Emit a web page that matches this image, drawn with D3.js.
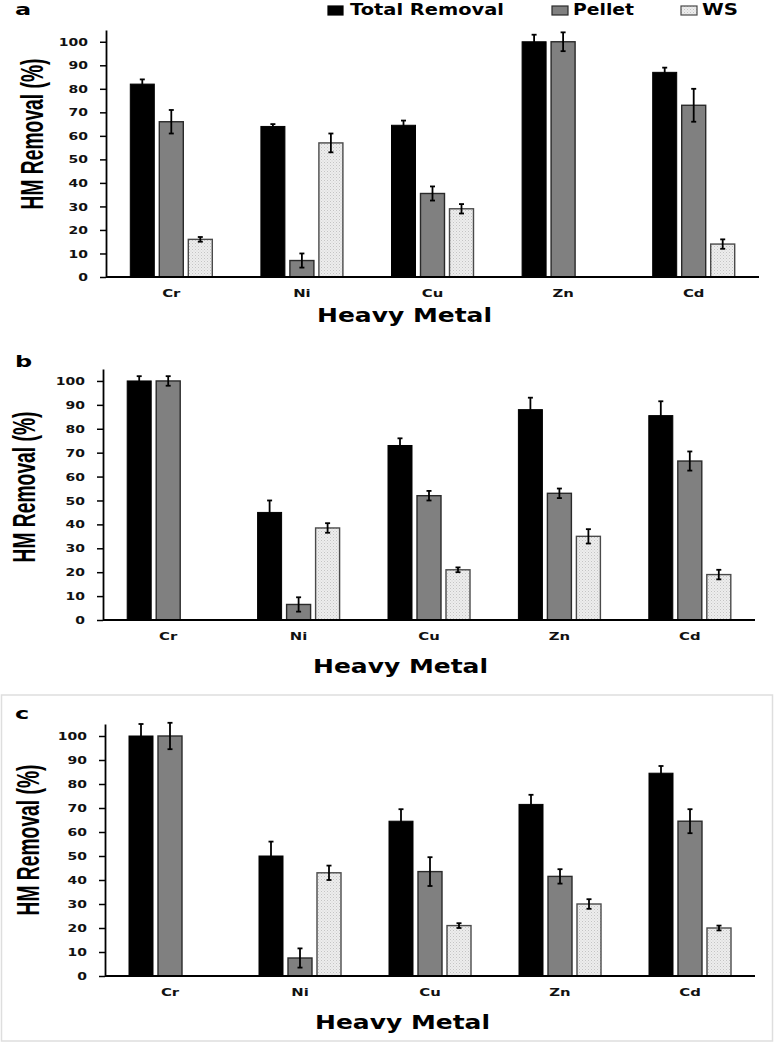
<!DOCTYPE html>
<html><head><meta charset="utf-8">
<script src="https://cdn.jsdelivr.net/npm/d3@7"></script>
<style>body{margin:0;background:#fff} svg{display:block}</style>
</head><body>
<svg id="chart" width="774" height="1043"></svg>
<script>
// ---------- data ----------
const categories = ["Cr", "Ni", "Cu", "Zn", "Cd"];
const seriesNames = ["Total Removal", "Pellet", "WS"];
const panelLetters = ["a", "b", "c"];
const yTickValues = [0, 10, 20, 30, 40, 50, 60, 70, 80, 90, 100];
const yLabel = "HM Removal (%)";
const xLabel = "Heavy Metal";

// panel a
const totalA    = [82, 64, 64.5, 100, 87];
const totalErrA = [2, 1, 2, 3, 2];
const pelletA    = [66, 7, 35.5, 100, 73];
const pelletErrA = [5, 3, 3, 4, 7];
const wsA    = [16, 57, 29, null, 14];
const wsErrA = [1, 4, 2, null, 2];

// panel b
const totalB    = [100, 45, 73, 88, 85.5];
const totalErrB = [2, 5, 3, 5, 6];
const pelletB    = [100, 6.5, 52, 53, 66.5];
const pelletErrB = [2, 3, 2, 2, 4];
const wsB    = [null, 38.5, 21, 35, 19];
const wsErrB = [null, 2, 1, 3, 2];

// panel c
const totalC    = [100, 50, 64.5, 71.5, 84.5];
const totalErrC = [5, 6, 5, 4, 3];
const pelletC    = [100, 7.5, 43.5, 41.5, 64.5];
const pelletErrC = [5.5, 4, 6, 3, 5];
const wsC    = [null, 43, 21, 30, 20];
const wsErrC = [null, 3, 1, 2, 1];

const panelData = [
  [[totalA, totalErrA], [pelletA, pelletErrA], [wsA, wsErrA]],
  [[totalB, totalErrB], [pelletB, pelletErrB], [wsB, wsErrB]],
  [[totalC, totalErrC], [pelletC, pelletErrC], [wsC, wsErrC]]
];

// ---------- layout ----------
const layouts = [
  {axisX:106, xEnd:759, y0:277, yTop:30, letterY:14.5, xlabX:317, xlabY:322, ylabX:43, ylabY:134},
  {axisX:103, xEnd:755, y0:620, yTop:369, letterY:367, xlabX:313, xlabY:673, ylabX:35, ylabY:487},
  {axisX:105, xEnd:755, y0:976, yTop:724, letterY:719, xlabX:315, xlabY:1029, ylabX:39, ylabY:840}
];
const fills = ["#000000", "#808080", "url(#wsPat)"];
const strokes = ["#000000", "#2a2a2a", "#4a4a4a"];

const svg = d3.select("#chart");
const defs = svg.append("defs");
const pat = defs.append("pattern").attr("id", "wsPat").attr("patternUnits", "userSpaceOnUse")
  .attr("width", 3).attr("height", 3);
pat.append("rect").attr("width", 3).attr("height", 3).attr("fill", "#ededed");
pat.append("rect").attr("x", 0).attr("y", 0).attr("width", 1).attr("height", 1).attr("fill", "#c4c4c4");
pat.append("rect").attr("x", 1.5).attr("y", 1.5).attr("width", 1).attr("height", 1).attr("fill", "#d2d2d2");

const boldFont = "'DejaVu Sans', Verdana, sans-serif";

// panel c border
svg.append("rect").attr("x", 1.5).attr("y", 695).attr("width", 771).attr("height", 346)
  .attr("fill", "none").attr("stroke", "#dedede").attr("stroke-width", 1.5);

panelData.forEach((series, pi) => {
  const L = layouts[pi];
  const g = svg.append("g");
  const x0 = d3.scaleBand().domain(categories).range([L.axisX, L.xEnd]);
  const x1 = d3.scaleBand().domain(seriesNames)
    .range([x0.bandwidth() / 2 - 41, x0.bandwidth() / 2 + 41]).paddingInner(5 / 29);
  const y = d3.scaleLinear().domain([0, 105]).range([L.y0, L.yTop]);

  // bars + error bars
  series.forEach(([vals, errs], si) => {
    const name = seriesNames[si];
    const items = categories.map((c, i) => ({c, v: vals[i], e: errs[i]})).filter(d => d.v != null);
    g.selectAll(null).data(items).enter().append("rect")
      .attr("x", d => x0(d.c) + x1(name))
      .attr("y", d => y(d.v))
      .attr("width", x1.bandwidth())
      .attr("height", d => y(0) - y(d.v))
      .attr("fill", fills[si])
      .attr("stroke", strokes[si])
      .attr("stroke-width", si === 0 ? 1 : 1.4);
    const eg = g.selectAll(null).data(items).enter().append("g")
      .attr("stroke", "#000").attr("stroke-width", 1.8);
    const cx = d => x0(d.c) + x1(name) + x1.bandwidth() / 2;
    eg.append("line").attr("x1", cx).attr("x2", cx)
      .attr("y1", d => y(d.v - d.e)).attr("y2", d => y(d.v + d.e));
    eg.append("line").attr("x1", d => cx(d) - 2.5).attr("x2", d => cx(d) + 2.5)
      .attr("y1", d => y(d.v + d.e)).attr("y2", d => y(d.v + d.e));
    eg.append("line").attr("x1", d => cx(d) - 2.5).attr("x2", d => cx(d) + 2.5)
      .attr("y1", d => y(d.v - d.e)).attr("y2", d => y(d.v - d.e));
  });

  // y axis
  const ya = g.append("g").attr("transform", `translate(${L.axisX},0)`)
    .call(d3.axisLeft(y).tickValues(yTickValues).tickSize(6).tickSizeOuter(0).tickFormat(d3.format("d")));
  ya.select(".domain").attr("stroke", "#000").attr("stroke-width", 1.8);
  ya.selectAll(".tick line").attr("stroke", "#000").attr("stroke-width", 1.5);
  ya.selectAll(".tick text").attr("x", null).attr("dy", "0.36em")
    .attr("transform", "translate(-18,0) scale(1.4,1)")
    .attr("text-anchor", "end")
    .style("font-family", boldFont).style("font-weight", "bold").style("font-size", "10px")
    .attr("fill", "#111");

  // x axis
  const xa = g.append("g").attr("transform", `translate(0,${L.y0})`)
    .call(d3.axisBottom(x0).tickSize(0));
  xa.select(".domain").remove();
  xa.selectAll(".tick text").attr("y", null).attr("dy", null)
    .attr("transform", "translate(0,20) scale(1.35,1)")
    .style("font-family", boldFont).style("font-weight", "bold").style("font-size", "11px")
    .attr("fill", "#111");
  g.append("line").attr("x1", L.axisX).attr("x2", L.xEnd).attr("y1", L.y0).attr("y2", L.y0)
    .attr("stroke", "#000").attr("stroke-width", 1.8);

  // panel letter
  g.append("text").attr("transform", `translate(15,${L.letterY}) scale(1.5,1)`)
    .style("font-family", boldFont).style("font-weight", "bold").style("font-size", "16px")
    .attr("fill", "#000").text(panelLetters[pi]);

  // x label
  g.append("text").attr("x", L.xlabX).attr("y", L.xlabY)
    .attr("textLength", 175).attr("lengthAdjust", "spacingAndGlyphs")
    .style("font-family", boldFont).style("font-weight", "bold").style("font-size", "20px")
    .attr("fill", "#000").text(xLabel);

  // y label
  g.append("text").attr("transform", `translate(${L.ylabX},${L.ylabY}) scale(1.27,1) rotate(-90)`)
    .attr("text-anchor", "middle")
    .attr("textLength", 151).attr("lengthAdjust", "spacingAndGlyphs")
    .style("font-family", "'Liberation Sans', Arial, sans-serif").style("font-weight", "bold").style("font-size", "24px")
    .attr("fill", "#000").text(yLabel);
});

// legend (panel a)
const legendPos = [
  {sx:328, sw:15, tx:350, tw:154},
  {sx:552, sw:16, tx:573, tw:61},
  {sx:681, sw:16, tx:702, tw:36}
];
const leg = svg.append("g");
seriesNames.forEach((name, i) => {
  const P = legendPos[i];
  leg.append("rect").attr("x", P.sx).attr("y", 6).attr("width", P.sw).attr("height", 9)
    .attr("fill", fills[i]).attr("stroke", strokes[i]).attr("stroke-width", 1.2);
  leg.append("text").attr("x", P.tx).attr("y", 15)
    .attr("textLength", P.tw).attr("lengthAdjust", "spacingAndGlyphs")
    .style("font-family", boldFont).style("font-weight", "bold").style("font-size", "15px")
    .attr("fill", "#000").text(name);
});
</script>
</body></html>
